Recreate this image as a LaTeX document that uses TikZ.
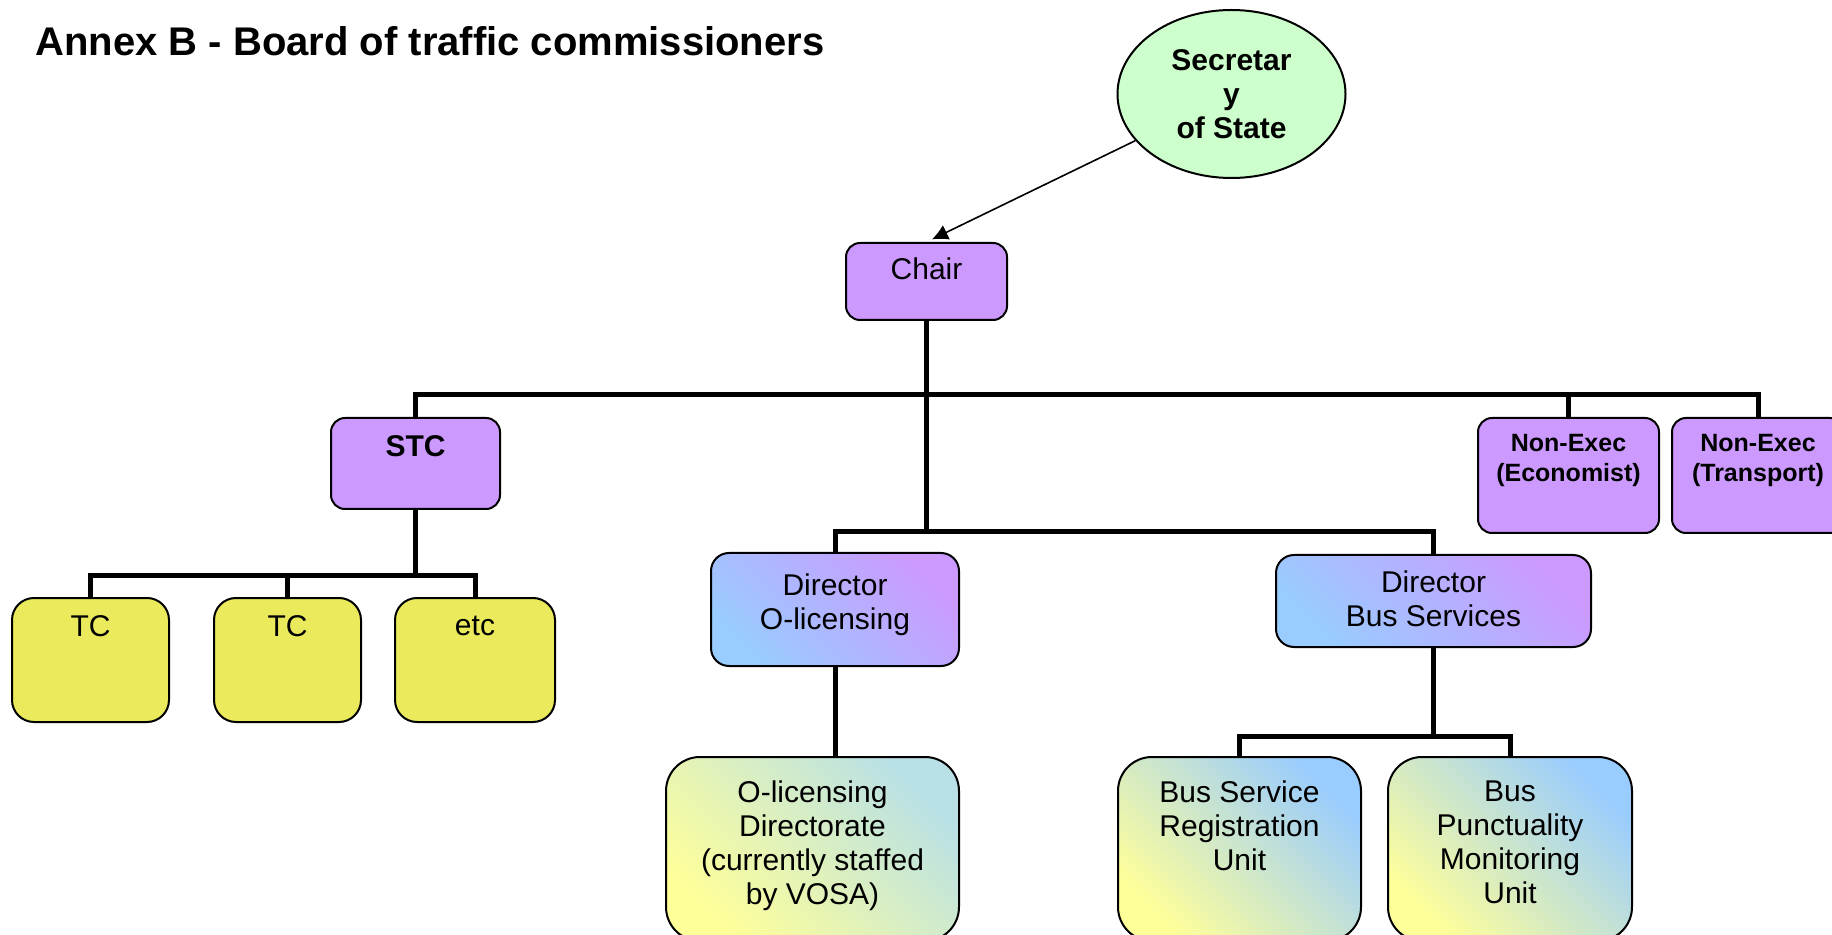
\documentclass[tikz,border=0pt]{standalone}
\usepackage{fontspec}
\setmainfont{Liberation Sans}
\usetikzlibrary{shapes.geometric,arrows.meta,positioning}
\definecolor{boxpurple}{HTML}{CC99FF}
\definecolor{boxyellow}{HTML}{EAEA5C}
\definecolor{sosgreen}{HTML}{CCFFCC}
\definecolor{lightblue}{HTML}{99CCFF}
\definecolor{paleyellow}{HTML}{FFFF99}
\definecolor{paleteal}{HTML}{B8E0E6}

\begin{document}
\begin{tikzpicture}[
    x=0.5pt, y=-0.5pt,
    box/.style={rectangle, draw, line width=1pt, inner sep=0pt},
    purplebox/.style={box, fill=boxpurple, rounded corners=7pt},
    tcbox/.style={box, fill=boxyellow, rounded corners=11pt},
    dirbox/.style={box, rounded corners=9pt, top color=boxpurple, bottom color=lightblue, shading angle=-45},
    unitbox/.style={box, rounded corners=17pt, top color=lightblue, bottom color=paleyellow, shading angle=-45},
    txt/.style={inner sep=0pt, align=center, font=\fontsize{15}{17}\selectfont},
    btxt/.style={txt, font=\bfseries\fontsize{15}{17}\selectfont},
    stxt/.style={txt, font=\bfseries\fontsize{12.5}{15}\selectfont},
    conn/.style={line width=2.5pt},
    arr/.style={line width=0.8pt, -{Latex[length=8pt,width=8pt]}, shorten >=3pt}
]
    \clip (0,0) rectangle (1832,935);
    \fill[white] (0,0) rectangle (1832,935);

    % Title
    \node[anchor=base west, inner sep=0pt, font=\bfseries\fontsize{20}{24}\selectfont] (title) at (35,56) {Annex B - Board of traffic commissioners};

    % Top
    \node[ellipse, draw, line width=1pt, fill=sosgreen, minimum width=114pt, minimum height=84pt, inner sep=0pt, align=center, font=\bfseries\fontsize{15}{17}\selectfont] (sos) at (1231.5,94) {Secretar\\y\\of State};
    \node[purplebox, minimum width=80.5pt, minimum height=38.5pt] (chair) at (926.5,281.5) {};
    \node[txt, below=7.5pt of chair.north] (chairt) {Chair};

    % Board members
    \node[purplebox, minimum width=84.5pt, minimum height=45.5pt] (stc) at (415.5,463.5) {};
    \node[btxt, below=9pt of stc.north] (stct) {STC};
    \node[purplebox, minimum width=90.5pt, minimum height=57.5pt] (econ) at (1568.5,475.5) {};
    \node[stxt, below=8.5pt of econ.north] (econt) {Non-Exec\\(Economist)};
    \node[purplebox, minimum width=86pt, minimum height=57.5pt] (trans) at (1758,475.5) {};
    \node[stxt, below=8.5pt of trans.north] (transt) {Non-Exec\\(Transport)};

    % Commissioners
    \node[tcbox, minimum width=78.5pt, minimum height=62pt] (tc1) at (90.5,660) {};
    \node[txt, below=9pt of tc1.north] (tc1t) {TC};
    \node[tcbox, minimum width=73.5pt, minimum height=62pt] (tc2) at (287.5,660) {};
    \node[txt, below=9pt of tc2.north] (tc2t) {TC};
    \node[tcbox, minimum width=80pt, minimum height=62pt] (tcetc) at (475,660) {};
    \node[txt, below=9.5pt of tcetc.north] (tcetct) {etc};

    % Directors
    \node[dirbox, minimum width=124pt, minimum height=56.5pt] (dirol) at (835,609.5) {};
    \node[txt, below=10.5pt of dirol.north] (dirolt) {Director\\O-licensing};
    \node[dirbox, minimum width=157.5pt, minimum height=46pt] (dirbs) at (1433.5,601) {};
    \node[txt, below=8pt of dirbs.north] (dirbst) {Director\\Bus Services};

    % Units
    \node[unitbox, top color=paleteal, shading angle=-45, minimum width=146.5pt, minimum height=92pt] (olic) at (812.5,849) {};
    \node[txt, below=12pt of olic.north] (olict) {O-licensing\\Directorate\\(currently staffed\\by VOSA)};
    \node[unitbox, minimum width=121.5pt, minimum height=92pt] (bsr) at (1239.5,849) {};
    \node[txt, below=12pt of bsr.north] (bsrt) {Bus Service\\Registration\\Unit};
    \node[unitbox, minimum width=122pt, minimum height=92pt] (bpm) at (1510,849) {};
    \node[txt, below=12pt of bpm.north] (bpmt) {Bus\\Punctuality\\Monitoring\\Unit};

    % Connections
    \coordinate (topbus) at (926.5,395);
    \coordinate (dirjoin) at (926.5,532);
    \coordinate (stcjoin) at (415.5,575);
    \coordinate (busjoin) at (1433.5,736);
    \draw[conn] (chair.south) -- (dirjoin);
    \draw[conn] (stc.north) |- (topbus) -| (trans.north);
    \draw[conn] (econ.north) -- (econ.north |- topbus);
    \draw[conn] (dirol.north) |- (dirjoin) -| (dirbs.north);
    \draw[conn] (stc.south) -- (stcjoin);
    \draw[conn] (tc1.north) |- (stcjoin) -| (tcetc.north);
    \draw[conn] (tc2.north) -- (tc2.north |- stcjoin);
    \draw[conn] (dirol.south) -- (olic.north -| dirol.south);
    \draw[conn] (dirbs.south) -- (busjoin);
    \draw[conn] (bsr.north) |- (busjoin) -| (bpm.north);
    \draw[arr] (sos) -- (chair.north);
\end{tikzpicture}
\end{document}
